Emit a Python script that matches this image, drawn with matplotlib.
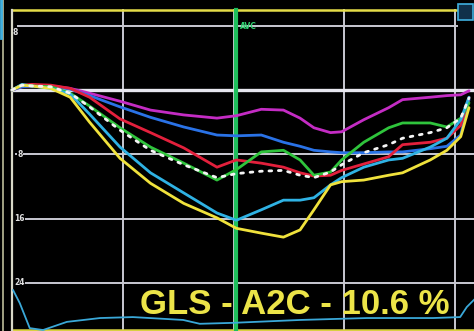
import matplotlib
matplotlib.use("Agg")
import matplotlib.pyplot as plt
from matplotlib.patches import Rectangle

# ---- data (time in ms, strain in %) ----
time_ms = [0, 18, 36, 70, 105, 140, 195, 250, 310, 370, 405, 450, 490, 520,
           545, 575, 595, 635, 680, 705, 755, 785, 810, 825]

magenta = [0, 0.4, 0.5, 0.5, 0.2, -0.4, -1.4, -2.5, -3.1, -3.5, -3.2, -2.4, -2.5, -3.5,
           -4.7, -5.3, -5.2, -3.7, -2.2, -1.2, -0.9, -0.7, -0.6, -0.1]
blue = [0, 0.4, 0.5, 0.5, 0.1, -0.7, -2.1, -3.4, -4.6, -5.6, -5.7, -5.6, -6.5, -7.0,
        -7.5, -7.7, -7.8, -7.8, -7.7, -7.7, -7.3, -7.0, -5.6, -1.2]
red = [0, 0.6, 0.7, 0.6, 0.2, -0.9, -3.6, -5.3, -7.2, -9.6, -8.7, -9.1, -9.6, -10.3,
       -10.7, -10.6, -10.0, -9.2, -8.3, -6.8, -6.5, -6.0, -4.4, -0.9]
green = [0, 0.6, 0.5, 0.4, -0.4, -2.0, -4.7, -7.1, -9.1, -11.2, -9.9, -7.7, -7.5, -8.7,
         -10.6, -10.2, -8.7, -6.5, -4.7, -4.1, -4.1, -4.6, -3.5, -1.6]
average = [0, 0.6, 0.5, 0.4, -0.4, -2.1, -5.0, -7.5, -9.3, -10.9, -10.4, -10.1, -10.0, -10.6,
           -10.9, -10.2, -9.3, -7.8, -6.8, -6.0, -5.3, -4.7, -3.5, -1.0]
cyan = [0, 0.7, 0.5, 0.2, -0.5, -3.0, -7.1, -10.3, -12.8, -15.3, -16.2, -14.9, -13.7, -13.7,
        -13.4, -11.8, -10.9, -9.6, -8.7, -8.5, -7.1, -6.0, -3.7, -0.9]
yellow = [0, 0.6, 0.5, 0.2, -0.9, -4.0, -8.5, -11.6, -14.1, -15.9, -17.2, -17.8, -18.3, -17.4,
          -14.9, -11.8, -11.4, -11.2, -10.6, -10.3, -8.7, -7.5, -5.8, -2.2]

segments = [
    ("magenta", magenta, "#c42cc4"),
    ("blue", blue, "#2a72e6"),
    ("red", red, "#e3203c"),
    ("green", green, "#2fc43c"),
    ("cyan", cyan, "#2fb2e4"),
    ("yellow", yellow, "#f0e23c"),
]

# lower trace (volume-like curve)
trace_t = [2, 14, 32, 56, 99, 159, 218, 309, 339, 399, 520, 641, 760, 809, 821, 834]
trace_v = [0.85, 0.58, 0.06, 0.02, 0.19, 0.27, 0.29, 0.23, 0.15, 0.17, 0.23, 0.27,
           0.27, 0.29, 0.50, 0.65]

grid_strain = [8, 0, -8, -16, -24]
grid_labels = ["8", "", "8", "16", "24"]
grid_time = [200, 400, 600, 800]
avc_time = 404
title_text = "GLS - A2C - 10.6 %"

# ---- figure ----
W, H = 474, 331
fig = plt.figure(figsize=(W / 100, H / 100), dpi=100, facecolor="black")
ax = fig.add_axes([0, 0, 1, 1])
ax.set_facecolor("black")
ax.set_xlim(-21.7, 834)
ax.set_ylim(-29.97, 11.19)
ax.axis("off")

gridc = "#c9c9d2"
# vertical grid lines
for t in grid_time:
    ax.plot([t, t], [10, -30], color=gridc, lw=1.4, zorder=1)
# horizontal grid lines
for s in grid_strain:
    if s == 0:
        ax.plot([0, 834], [s, s], color="#e6e6ee", lw=2.4, zorder=1)
    elif s == 8:
        ax.plot([11, 803], [s, s], color=gridc, lw=1.4, zorder=1)
    else:
        ax.plot([8, 834], [s, s], color=gridc, lw=1.4, zorder=1)

# borders
ax.plot([0, 803], [10, 10], color="#e4dc48", lw=1.8, zorder=2)
ax.plot([0, 834], [-29.85, -29.85], color="#d8d040", lw=1.8, zorder=2)
ax.plot([0, 0], [10, -30], color="#d8d8c8", lw=1.6, zorder=2)
ax.plot([-17, -17], [11.2, -30], color="#bdbd9a", lw=1.2, zorder=2)
ax.plot([-19, -19], [11.2, 6.5], color="#3fb0e0", lw=2.0, zorder=2)

# grid labels
for s, lab in zip(grid_strain, grid_labels):
    if lab:
        ax.text(14 if s != 8 else 5, s - (0.8 if s == 8 else 0), lab, color="#e0e0e0",
                fontsize=5.5, fontweight="bold", ha="center", va="center", zorder=3,
                bbox=dict(facecolor="black", edgecolor="none", pad=0.3) if s != 8 else None)

# AVC line
ax.plot([avc_time, avc_time], [10, -30], color="#1fbf5c", lw=3.0, zorder=2)
ax.text(avc_time + 8, 7.9, "AVC", color="#2fd070", fontsize=5.5, fontweight="bold",
        ha="left", va="center", zorder=3)

# strain curves
for name, vals, col in segments:
    ax.plot(time_ms, vals, color=col, lw=2.0, solid_joinstyle="round",
            solid_capstyle="round", zorder=4)
ax.plot(time_ms, average, color="#f4f4f4", lw=2.0, linestyle=(0, (1, 2.4)),
        dash_capstyle="round", zorder=5)

# lower trace
ax2 = fig.add_axes([0, 0, 1, 48 / H])
ax2.set_xlim(-21.7, 834)
ax2.set_ylim(0, 1)
ax2.axis("off")
ax2.patch.set_alpha(0)
ax2.plot(trace_t, trace_v, color="#3aa8d8", lw=1.3, zorder=3)

# top-right icon box
fig.patches.append(Rectangle((458 / W, 1 - 20 / H), 15 / W, 16 / H, transform=fig.transFigure,
                             facecolor="#10304a", edgecolor="#3fb0e0", lw=1.2))

# GLS text, sized to span ~310 px
txt = fig.text(295 / W, 1 - 304 / H, title_text, color="#ece448", fontsize=24,
               fontweight="bold", family=["Liberation Sans", "DejaVu Sans"],
               ha="center", va="center", zorder=10)
fig.canvas.draw()
bb = txt.get_window_extent()
txt.set_fontsize(24 * 310 / bb.width)

fig.savefig("out.png", dpi=100, facecolor="black")
